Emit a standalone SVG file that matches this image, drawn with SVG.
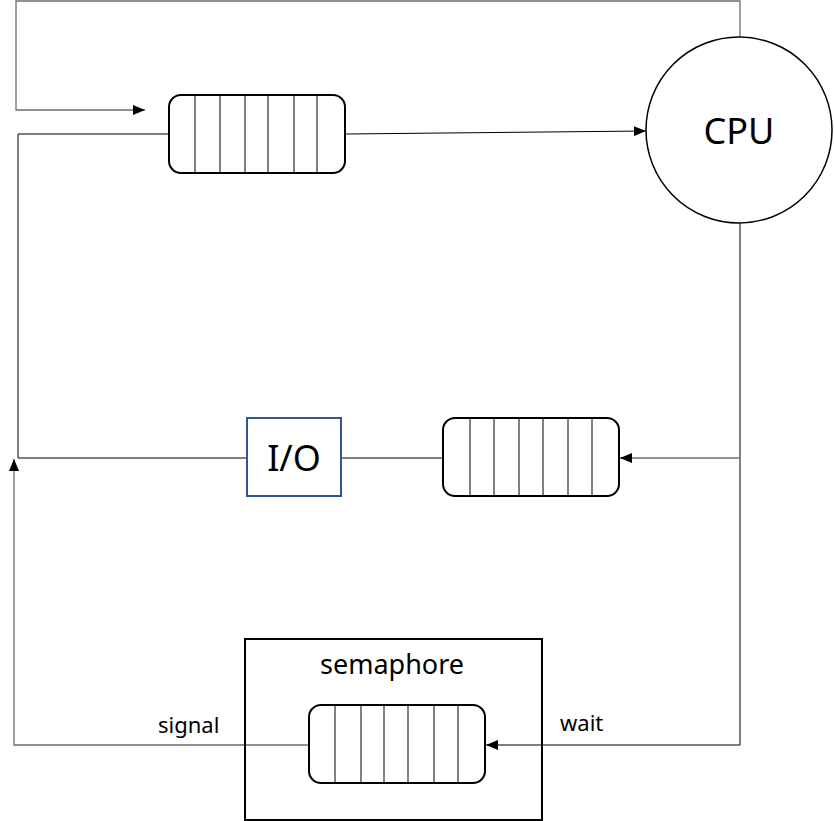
<svg xmlns="http://www.w3.org/2000/svg" width="834" height="821" viewBox="0 0 834 821">
<style>
.q{fill:#fff;stroke:#000;stroke-width:2}
.d{stroke:#000;stroke-width:1}
.c{fill:none;stroke:#000;stroke-width:1}
.g{fill:none;stroke:#6e6e6e;stroke-width:1.3}
text{font-family:"Noto Sans","Open Sans",sans-serif;fill:#000}
</style>
<defs>
<marker id="ah" viewBox="0 0 12 10" refX="12" refY="5" markerWidth="12" markerHeight="10" markerUnits="userSpaceOnUse" orient="auto">
<path d="M0,0L12,5L0,10Z" fill="#000"/>
</marker>
</defs>
<rect width="834" height="821" fill="#fff"/>
<g id="connectors">
<polyline class="g" points="740,38 740,1 16,1 16,110 145,110" marker-end="url(#ah)"/>
<line class="c" x1="345" y1="134" x2="646" y2="131" marker-end="url(#ah)"/>
<polyline class="c" points="169,134 18,134 18,458 247,458"/>
<polyline class="c" points="740,223 740,745 486,745" marker-end="url(#ah)"/>
<line class="g" x1="740" y1="458" x2="620" y2="458" marker-end="url(#ah)"/>
<line class="c" x1="443" y1="458" x2="341" y2="458"/>
<polyline class="g" points="309,745 14,745 14,459" marker-end="url(#ah)"/>
</g>
<g id="ready-queue">
<rect class="q" x="169" y="95" width="176" height="78" rx="12"/>
<path class="d" d="M195,95V173M220,95V173M245,95V173M268,95V173M294,95V173M317,95V173"/>
</g>
<g id="cpu">
<circle cx="739" cy="130" r="93" fill="#fff" stroke="#000" stroke-width="1.5"/>
<text x="739" y="144" font-size="36" text-anchor="middle">CPU</text>
</g>
<g id="io">
<rect x="247" y="418" width="94" height="78" fill="#fff" stroke="#2f5597" stroke-width="2"/>
<text x="294" y="471" font-size="36" text-anchor="middle">I/O</text>
</g>
<g id="io-queue">
<rect class="q" x="443" y="418" width="176" height="78" rx="12"/>
<path class="d" d="M470,418V496M494,418V496M519,418V496M543,418V496M568,418V496M592,418V496"/>
</g>
<g id="semaphore">
<rect x="245" y="639" width="297" height="181" fill="none" stroke="#000" stroke-width="2"/>
<text x="392" y="674" font-size="27" text-anchor="middle">semaphore</text>
</g>
<g id="semaphore-queue">
<rect class="q" x="309" y="705" width="176" height="78" rx="12"/>
<path class="d" d="M335,705V783M361,705V783M384,705V783M408,705V783M434,705V783M458,705V783"/>
</g>
<g id="labels">
<text x="158" y="733" font-size="22">signal</text>
<text x="560" y="731" font-size="22">wait</text>
</g>
</svg>
